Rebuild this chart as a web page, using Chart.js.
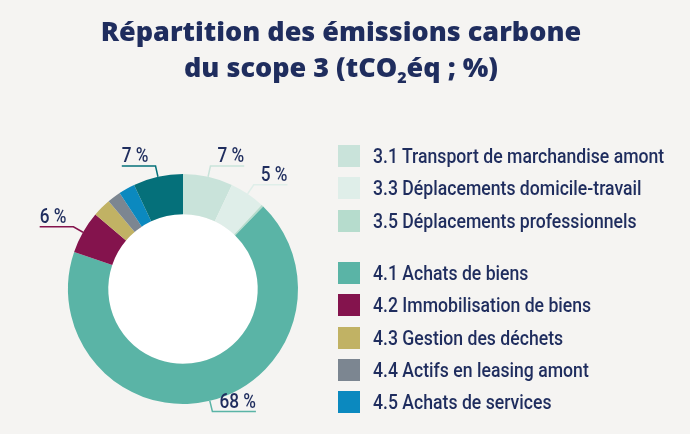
<!DOCTYPE html>
<html>
<head>
<meta charset="utf-8">
<script src="https://cdn.jsdelivr.net/npm/chart.js@4.4.1/dist/chart.umd.min.js"></script>
<style>
    html, body {
        margin: 0;
        padding: 0;
        width: 690px;
        height: 434px;
        overflow: hidden;
        background: #f5f4f2;
    }
    #title {
        position: absolute;
        top: 13px;
        left: 0;
        width: 682px;
        text-align: center;
        font-family: "Open Sans", sans-serif;
        font-weight: 800;
        font-size: 27px;
        line-height: 36px;
        color: #1f2d5e;
        margin: 0;
    }
    #title sub {
        font-size: 16px;
        line-height: 0;
    }
    #wrap {
        position: absolute;
        left: 0;
        top: 0;
        width: 690px;
        height: 434px;
    }
    #legend {
        position: absolute;
        left: 338px;
        top: 140px;
        font-family: Roboto, sans-serif;
        font-weight: 500;
        font-size: 21px;
        color: #1f2d5e;
        white-space: nowrap;
    }
    .row {
        height: 32.3px;
        display: flex;
        align-items: center;
    }
    .box {
        width: 22px;
        height: 22px;
        margin-right: 13px;
        flex: none;
    }
    .txt {
        display: inline-block;
        transform-origin: left center;
    }
    .gap {
        height: 20px;
    }
</style>
</head>
<body>
<div id="wrap"><canvas id="chartScope3"></canvas></div>
<h1 id="title">Répartition des émissions carbone<br>du scope 3 (tCO<sub>2</sub>éq ; %)</h1>
<div id="legend"></div>
<script>
const categories = [
    "3.1 Transport de marchandise amont",
    "3.3 Déplacements domicile-travail",
    "3.5 Déplacements professionnels",
    "4.1 Achats de biens",
    "4.2 Immobilisation de biens",
    "4.3 Gestion des déchets",
    "4.4 Actifs en leasing amont",
    "4.5 Achats de services",
    "Autres postes",
];
const shares = [7, 5, 0.3, 68, 6, 2.6, 1.9, 2.3, 7];
const percentLabels = ["7 %", "5 %", "", "68 %", "6 %", "", "", "", "7 %"];
const sliceColors = [
    "#c9e3da",
    "#dfeee9",
    "#b6dccd",
    "#5ab4a6",
    "#84134d",
    "#c1b264",
    "#7c8691",
    "#0b89bf",
    "#05707a",
];
const legendCount = 8;

var labelFont = "500 21px Roboto, sans-serif";
var squeeze = 0.82; // the original uses a condensed face
var legendSqueeze = 0.84;

// white hole in the middle of the ring
const holePlugin = {
    id: "hole",
    beforeDatasetsDraw(chart) {
        var arc = chart.getDatasetMeta(0).data[0];
        if (!arc) return;
        var ctx = chart.ctx;
        ctx.save();
        ctx.fillStyle = "#ffffff";
        ctx.beginPath();
        ctx.arc(arc.x, arc.y, arc.innerRadius, 0, Math.PI * 2);
        ctx.fill();
        ctx.restore();
    },
};

// percentage labels with leader lines
const leaderPlugin = {
    id: "leaders",
    afterDatasetsDraw(chart) {
        var ctx = chart.ctx;
        var meta = chart.getDatasetMeta(0);
        ctx.save();
        ctx.font = labelFont;
        ctx.textBaseline = "alphabetic";
        meta.data.forEach(function (arc, i) {
            var text = percentLabels[i];
            if (!text) return;
            var mid = (arc.startAngle + arc.endAngle) / 2;
            var r = arc.outerRadius;
            var ax = arc.x + Math.cos(mid) * r;
            var ay = arc.y + Math.sin(mid) * r;
            var ex = arc.x + Math.cos(mid) * (r + 11);
            var ey = arc.y + Math.sin(mid) * (r + 11);
            var dir = ex >= arc.x ? 1 : -1;
            var w = ctx.measureText(text).width * squeeze + 7;
            var fx = ex + dir * w;
            ctx.strokeStyle = sliceColors[i];
            ctx.lineWidth = 1.5;
            ctx.beginPath();
            ctx.moveTo(ax, ay);
            ctx.lineTo(ex, ey);
            ctx.lineTo(fx, ey);
            ctx.stroke();
            ctx.save();
            ctx.translate(fx, ey - 4);
            ctx.scale(squeeze, 1);
            ctx.fillStyle = "#1f2d5e";
            ctx.textAlign = dir > 0 ? "right" : "left";
            ctx.fillText(text, 0, 0);
            ctx.restore();
        });
        ctx.restore();
    },
};

new Chart(document.getElementById("chartScope3"), {
    type: "doughnut",
    data: {
        labels: categories,
        datasets: [
            {
                data: shares,
                backgroundColor: sliceColors,
                borderWidth: 0,
            },
        ],
    },
    options: {
        responsive: true,
        maintainAspectRatio: false,
        animation: false,
        cutout: "65%",
        layout: {
            padding: { left: 68, right: 392, top: 174, bottom: 30 },
        },
        plugins: {
            legend: { display: false },
            tooltip: { enabled: false },
        },
    },
    plugins: [holePlugin, leaderPlugin],
});

// legend on the right, with a gap between the 3.x and 4.x groups
var legendBox = document.getElementById("legend");
for (var i = 0; i < legendCount; i++) {
    if (i > 0 && categories[i].charAt(0) !== categories[i - 1].charAt(0)) {
        var gap = document.createElement("div");
        gap.className = "gap";
        legendBox.appendChild(gap);
    }
    var row = document.createElement("div");
    row.className = "row";
    var box = document.createElement("span");
    box.className = "box";
    box.style.background = sliceColors[i];
    var txt = document.createElement("span");
    txt.className = "txt";
    txt.textContent = categories[i];
    txt.style.transform = "scaleX(" + legendSqueeze + ")";
    row.appendChild(box);
    row.appendChild(txt);
    legendBox.appendChild(row);
}
</script>
</body>
</html>
